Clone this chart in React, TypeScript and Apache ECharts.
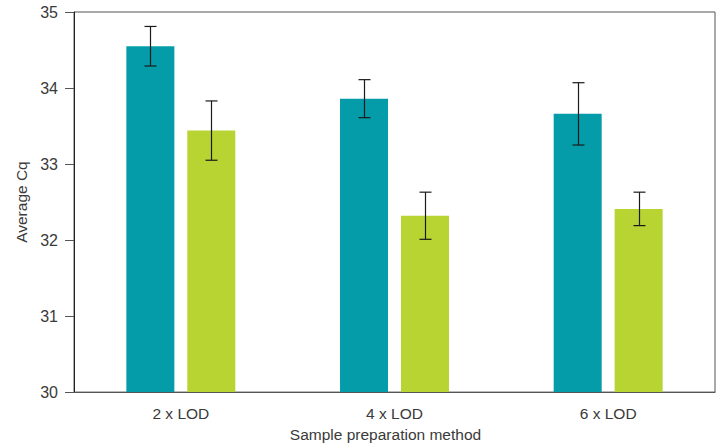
import React, { useEffect, useRef } from "react";
import * as echarts from "echarts";

const categories = ["2 x LOD", "4 x LOD", "6 x LOD"];
const seriesA = [34.55, 33.86, 33.66];
const errorA = [0.26, 0.25, 0.41];
const seriesB = [33.44, 32.32, 32.41];
const errorB = [0.39, 0.31, 0.22];
const yTicks = [30, 31, 32, 33, 34, 35];

const TEAL = "#049ca8";
const LIME = "#b7d433";
const FONT = "Liberation Sans";
const TEXT = "#3a3a3a";

export default function App() {
  const ref = useRef<HTMLDivElement>(null);
  useEffect(() => {
    if (!ref.current) return;
    const chart = echarts.init(ref.current, null, { renderer: "svg" });

    const errorSeries = (vals: number[], errs: number[], seriesIndex: number) => ({
      type: "custom",
      z: 10,
      data: vals.map((v, i) => [i, v - errs[i], v + errs[i]]),
      renderItem: (params: any, api: any) => {
        const idx = api.value(0);
        const lo = api.coord([idx, api.value(1)]);
        const hi = api.coord([idx, api.value(2)]);
        const bw = 48;
        const gap = 13;
        const offset = seriesIndex === 0 ? -(bw + gap) / 2 : (bw + gap) / 2;
        const x = Math.round(lo[0] + offset) + 0.5;
        const cap = 6;
        const style = { stroke: "#1a1a1a", lineWidth: 1.2 };
        return {
          type: "group",
          children: [
            { type: "line", shape: { x1: x, y1: hi[1], x2: x, y2: lo[1] }, style },
            { type: "line", shape: { x1: x - cap, y1: hi[1], x2: x + cap, y2: hi[1] }, style },
            { type: "line", shape: { x1: x - cap, y1: lo[1], x2: x + cap, y2: lo[1] }, style },
          ],
        };
      },
    });

    chart.setOption({
      animation: false,
      grid: {
        left: 74,
        top: 12,
        right: 7,
        bottom: 54,
        show: true,
        borderColor: "#555",
        borderWidth: 1,
      },
      xAxis: {
        type: "category",
        data: categories,
        name: "Sample preparation method",
        nameLocation: "middle",
        nameGap: 30,
        nameTextStyle: { fontFamily: FONT, fontSize: 15.5, color: TEXT, padding: [0, 18, 0, 0] },
        axisLine: { lineStyle: { color: "#555", width: 1 } },
        axisTick: { show: false },
        axisLabel: { fontFamily: FONT, fontSize: 15.5, color: TEXT, margin: 13 },
      },
      yAxis: {
        type: "value",
        min: yTicks[0],
        max: yTicks[yTicks.length - 1],
        interval: 1,
        name: "Average Cq",
        nameLocation: "middle",
        nameGap: 45,
        nameTextStyle: { fontFamily: FONT, fontSize: 15.5, color: TEXT },
        axisLine: { show: true, lineStyle: { color: "#222", width: 1 } },
        axisTick: { show: true, length: 9, lineStyle: { color: "#555" } },
        splitLine: { show: false },
        axisLabel: { fontFamily: FONT, fontSize: 16, color: TEXT, margin: 16 },
      },
      series: [
        {
          type: "bar",
          data: seriesA,
          barWidth: 48,
          barGap: "27%",
          itemStyle: { color: TEAL },
        },
        {
          type: "bar",
          data: seriesB,
          barWidth: 48,
          barGap: "27%",
          itemStyle: { color: LIME },
        },
        errorSeries(seriesA, errorA, 0),
        errorSeries(seriesB, errorB, 1),
      ],
    });
    return () => chart.dispose();
  }, []);

  return (
    <div
      ref={ref}
      style={{ position: "absolute", left: 0, top: 0, width: 722, height: 447 }}
    />
  );
}
